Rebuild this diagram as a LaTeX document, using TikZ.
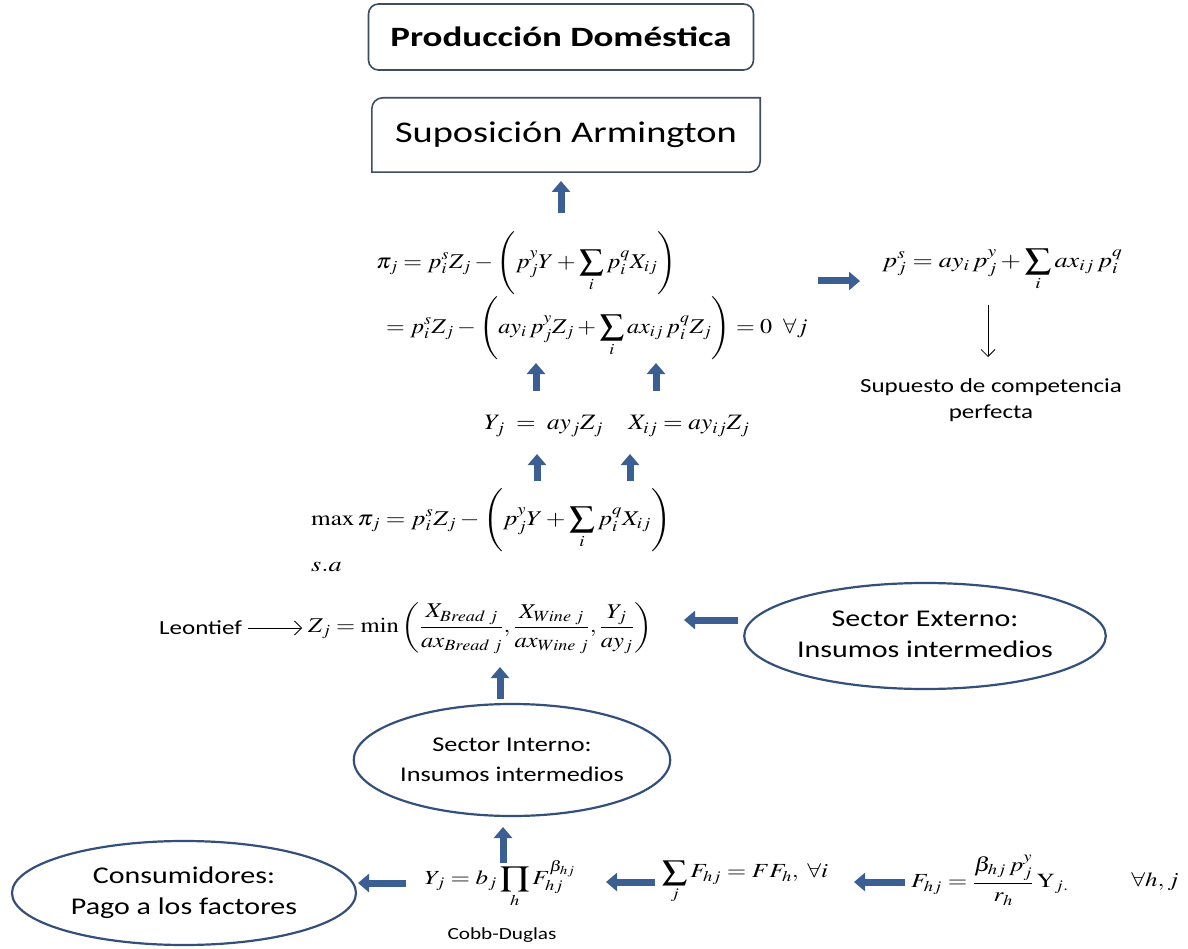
\documentclass[tikz,border=0pt]{standalone}
\usepackage{amsmath}
\usepackage{mathptmx}
\usepackage{fontspec}
\setmainfont{Carlito}
\usepackage{graphicx}
\usetikzlibrary{arrows.meta,shapes.geometric}
\definecolor{arrowblue}{HTML}{3B5F93}
\definecolor{lineblue}{HTML}{34507A}
\definecolor{boxgray}{HTML}{3E4C60}
\newcommand{\hst}[1]{\scalebox{1.25}[1]{#1}}
\newcommand{\hsm}[1]{\scalebox{1.15}[1]{#1}}
\newcommand{\fsz}[2]{\fontsize{#1}{#2}\selectfont}
\begin{document}
\begin{tikzpicture}[x=1pt,y=-1pt,
  rbox/.style={draw=boxgray, line width=1.6pt, rounded corners=10pt, inner sep=0pt},
  boxline/.style={draw=boxgray, line width=1.6pt},
  ell/.style={ellipse, draw=lineblue, line width=2.2pt, inner sep=0pt},
  eq/.style={inner sep=0pt, anchor=west},
  ctr/.style={inner sep=0pt},
  blk/.style={draw=arrowblue, line width=7pt, -{Triangle[width=18pt,length=11pt]}},
  thinarr/.style={draw=black, line width=0.8pt, -{Straight Barb[length=7pt,width=14pt]}},
]
\useasboundingbox (0,0) rectangle (1188,949);

% boxes
\node[rbox, minimum width=385pt, minimum height=66pt, font=\bfseries\fsz{28}{34}] (prod) at (561,37) {\scalebox{1.32}[1]{Producción Doméstica}};
\node[inner sep=0pt, minimum width=388pt, minimum height=74pt, font=\fsz{30}{36}] (arm) at (566,135) {\scalebox{1.28}[1]{Suposición Armington}};
\draw[boxline] (arm.north east) -- ([yshift=11pt]arm.south east)
  arc[start angle=0, end angle=-90, radius=11pt]
  -- (arm.south west) -- ([yshift=-11pt]arm.north west)
  arc[start angle=180, end angle=90, radius=11pt] -- cycle;

% profit equations
\node[eq, font=\fsz{21}{25}] (pi1) at (376,263) {\hsm{$\displaystyle \pi_j = p_i^s Z_j - \left( p_j^y Y + \sum_i p_i^q X_{ij} \right)$}};
\node[eq, font=\fsz{21}{25}] (pi2) at (386,328) {\hsm{$\displaystyle = p_i^s Z_j - \left( ay_i\, p_j^y Z_j + \sum_i ax_{ij}\, p_i^q Z_j \right) = 0 \ \ \forall j$}};

\node[eq, font=\fsz{21}{25}] (pr) at (882,270) {\hst{$\displaystyle p_j^s = ay_i\, p_j^y + \sum_i ax_{ij}\, p_i^q$}};
\node[ctr, font=\fsz{20}{26}] (sup) at (991,400) {\hst{\begin{tabular}{@{}c@{}}Supuesto de competencia\\perfecta\end{tabular}}};

\node[ctr, font=\fsz{22}{26}] (yrow) at (617,426) {\hsm{$Y_j \;=\; ay_j Z_j \quad X_{ij} = ay_{ij} Z_j$}};

\node[eq, font=\fsz{21}{25}] (maxeq) at (311,520) {\scalebox{1.2}[1]{$\displaystyle \max \pi_j = p_i^s Z_j - \left( p_j^y Y + \sum_i p_i^q X_{ij} \right)$}};
\node[eq, font=\fsz{21}{25}] (sa) at (311,567) {\hst{$s.a$}};

\node[eq, font=\fsz{20}{24}] (leo) at (159,628) {\hst{Leontief}};
\node[eq, font=\fsz{21}{25}] (zmin) at (308,628) {\scalebox{1.17}[1]{$\displaystyle Z_j = \min\left( \frac{X_{Bread\;j}}{ax_{Bread\;j}}, \frac{X_{Wine\;j}}{ax_{Wine\;j}}, \frac{Y_j}{ay_j}\right)$}};

% ellipses
\node[ell, minimum width=350pt, minimum height=106pt, font=\fsz{24}{31}] (ext) at (925,636) {\hst{\begin{tabular}{@{}c@{}}Sector Externo:\\Insumos intermedios\end{tabular}}};
\node[ell, minimum width=304pt, minimum height=112pt, font=\fsz{21}{30}] (int) at (512,760) {\hst{\begin{tabular}{@{}c@{}}Sector Interno:\\Insumos intermedios\end{tabular}}};
\node[ell, minimum width=344pt, minimum height=104pt, font=\fsz{24}{31}] (cons) at (184,893) {\hst{\begin{tabular}{@{}c@{}}Consumidores:\\Pago a los factores\end{tabular}}};

% bottom row
\node[ctr, font=\fsz{20}{24}] (yb) at (500,884) {\hst{$\displaystyle Y_j = b_j \prod_h F_{hj}^{\beta_{hj}}$}};
\node[ctr, font=\fsz{17}{20}] (cobb) at (502,935) {\hst{Cobb-Duglas}};
\node[ctr, font=\fsz{20}{24}] (sumf) at (745,882) {\hst{$\displaystyle \sum_j F_{hj} = FF_h,\ \forall i$}};
\node[ctr, font=\fsz{20}{24}] (fhj) at (990,880) {\hst{$\displaystyle F_{hj} = \frac{\beta_{hj}\, p_j^y}{r_h}\,\mathrm{Y}_{j.}$}};
\node[ctr, font=\fsz{20}{24}] (fall) at (1155,882) {\hst{$\forall h, j$}};

% arrow end points
\coordinate (a1s) at (561,213); \coordinate (a1e) at (561,181);
\coordinate (a2s) at (818,281); \coordinate (a2e) at (860,281);
\coordinate (a3s) at (536,391); \coordinate (a3e) at (536,363);
\coordinate (a4s) at (656,391); \coordinate (a4e) at (656,363);
\coordinate (a5s) at (537,481); \coordinate (a5e) at (537,454);
\coordinate (a6s) at (630,481); \coordinate (a6e) at (630,454);
\coordinate (a7s) at (738,620); \coordinate (a7e) at (684,620);
\coordinate (a8s) at (500,699); \coordinate (a8e) at (500,667);
\coordinate (a9s) at (503,863); \coordinate (a9e) at (503,827);
\coordinate (a10s) at (406,883); \coordinate (a10e) at (358,883);
\coordinate (a11s) at (655,882); \coordinate (a11e) at (606,882);
\coordinate (a12s) at (905,882); \coordinate (a12e) at (854,882);
\coordinate (d1) at (988,305); \coordinate (d2) at (988,357);

\draw[blk] (a1s) -- (a1e);
\draw[blk] (a2s) -- (a2e);
\draw[blk] (a3s) -- (a3e);
\draw[blk] (a4s) -- (a4e);
\draw[blk] (a5s) -- (a5e);
\draw[blk] (a6s) -- (a6e);
\draw[blk] (a7s) -- (a7e);
\draw[blk] (a8s) -- (a8e);
\draw[blk] (a9s) -- (a9e);
\draw[blk] (a10s) -- (a10e);
\draw[blk] (a11s) -- (a11e);
\draw[blk] (a12s) -- (a12e);
\draw[thinarr] (d1) -- (d2);
\draw[thinarr, shorten <=6pt, shorten >=6pt] (leo.east) -- (zmin.west);
\end{tikzpicture}
\end{document}
